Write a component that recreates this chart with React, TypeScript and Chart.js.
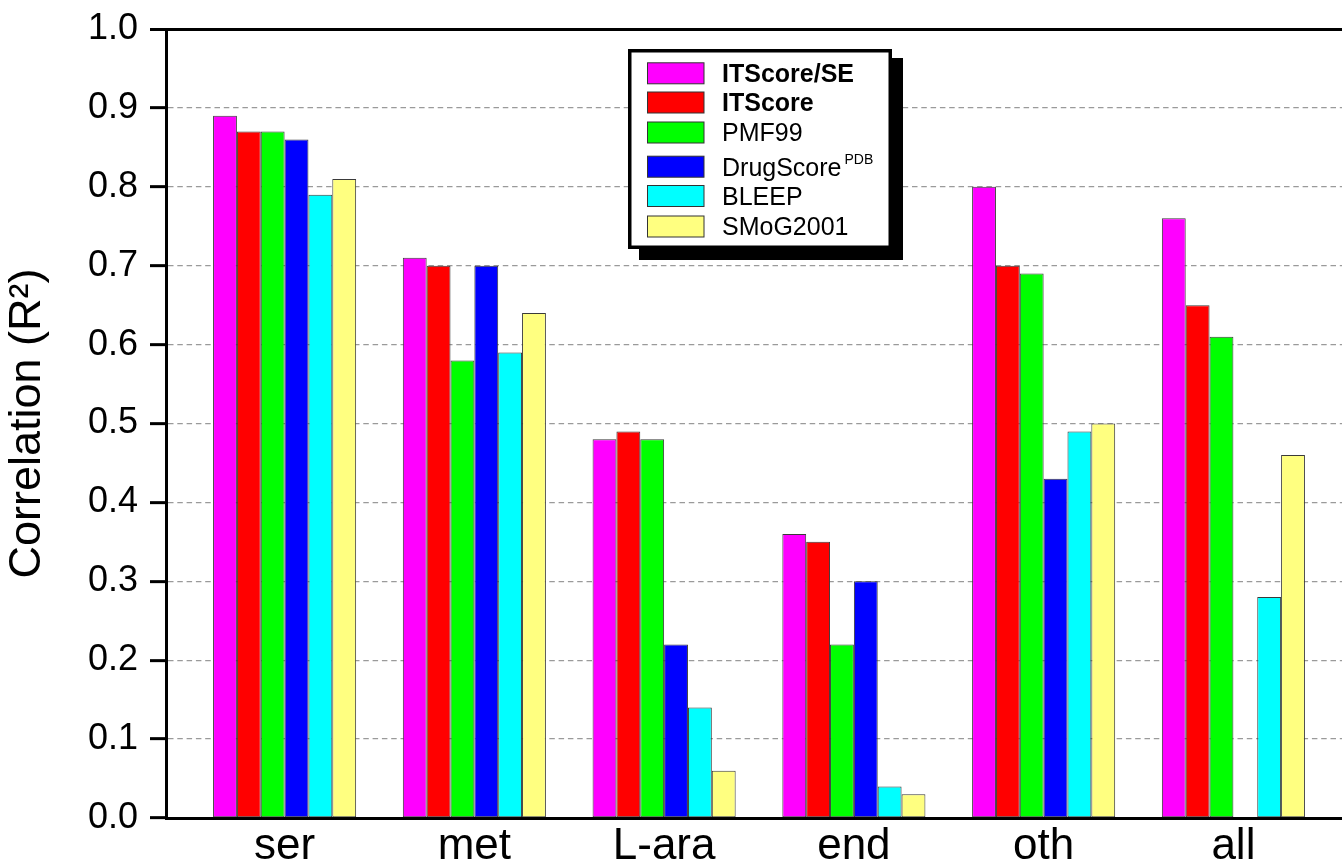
import React, { useEffect, useRef } from "react";
import { Chart, registerables } from "chart.js";

Chart.register(...registerables);

const categories = ["ser", "met", "L-ara", "end", "oth", "all"];
const seriesNames = ["ITScore/SE", "ITScore", "PMF99", "DrugScore", "BLEEP", "SMoG2001"];
const seriesSup = ["", "", "", "PDB", "", ""];
const itscoreSE = [0.89, 0.71, 0.48, 0.36, 0.8, 0.76];
const itscore = [0.87, 0.7, 0.49, 0.35, 0.7, 0.65];
const pmf99 = [0.87, 0.58, 0.48, 0.22, 0.69, 0.61];
const drugScore = [0.86, 0.7, 0.22, 0.3, 0.43, null];
const bleep = [0.79, 0.59, 0.14, 0.04, 0.49, 0.28];
const smog2001 = [0.81, 0.64, 0.06, 0.03, 0.5, 0.46];
const yTicks = [0, 0.1, 0.2, 0.3, 0.4, 0.5, 0.6, 0.7, 0.8, 0.9, 1.0];

const seriesValues = [itscoreSE, itscore, pmf99, drugScore, bleep, smog2001];
const seriesColors = ["#ff00ff", "#ff0000", "#00ff00", "#0000ff", "#00ffff", "#ffff80"];
const seriesBold = [true, true, false, false, false, false];

const FONT = '"Liberation Sans", Arial, Helvetica, sans-serif';
const W = 1380;
const H = 867;

const legendPlugin = {
  id: "boxLegend",
  afterDraw(chart: any) {
    const ctx = chart.ctx as CanvasRenderingContext2D;
    ctx.save();
    const bx = 628, by = 49, bw = 264, bh = 200, sh = 11;
    ctx.fillStyle = "#000";
    ctx.fillRect(bx + sh, by + sh - 2, bw, bh + 2);
    ctx.fillRect(bx, by, bw, bh);
    ctx.fillStyle = "#fff";
    ctx.fillRect(bx + 3.5, by + 3.5, bw - 7, bh - 7);
    const centers = [73.3, 102.5, 132.5, 166.7, 196, 226.5];
    chart.data.datasets.forEach((ds: any, i: number) => {
      const cy = centers[i];
      ctx.fillStyle = ds.backgroundColor;
      ctx.fillRect(647, cy - 10.5, 57, 21);
      ctx.strokeStyle = "#333";
      ctx.lineWidth = 1;
      ctx.strokeRect(647.5, cy - 10.5, 56.5, 21);
      ctx.fillStyle = "#000";
      ctx.textBaseline = "alphabetic";
      ctx.textAlign = "left";
      ctx.font = (seriesBold[i] ? "bold " : "") + "25px " + FONT;
      const base = cy + 8.8;
      ctx.fillText(ds.label, 722, base);
      if (seriesSup[i]) {
        const w = ctx.measureText(ds.label).width;
        ctx.font = "14px " + FONT;
        ctx.fillText(seriesSup[i], 722 + w + 3, base - 12);
      }
    });
    ctx.restore();
  },
};

export default function App() {
  const ref = useRef<HTMLCanvasElement | null>(null);
  useEffect(() => {
    if (!ref.current) return;
    const datasets = seriesNames.map((name, s) => ({
      label: name,
      data: categories.map((_, i) => ({ x: i, y: seriesValues[s][i] })),
      backgroundColor: seriesColors[s],
      borderColor: "#3a3a3a",
      borderWidth: 1,
      borderSkipped: false,
      barPercentage: 1,
      categoryPercentage: 0.754,
    }));
    const isInner = (v: number) => v > 0.001 && v < 0.999;
    const chart = new Chart(ref.current, {
      type: "bar",
      data: { datasets },
      plugins: [legendPlugin],
      options: {
        animation: false,
        responsive: false,
        events: [],
        layout: { padding: { top: 29, right: 28, bottom: 0, left: 0 } },
        plugins: { legend: { display: false }, tooltip: { enabled: false } },
        scales: {
          x: {
            type: "linear",
            min: -0.625,
            max: 5.625,
            offset: false,
            afterFit: (scale: any) => {
              scale.height = 49;
              scale.paddingLeft = 0;
              scale.paddingRight = 0;
            },
            afterBuildTicks: (axis: any) => {
              axis.ticks = categories.map((_, i) => ({ value: i }));
            },
            grid: { display: false, drawTicks: false, offset: false },
            border: { display: true, color: "#000", width: 3 },
            ticks: {
              autoSkip: false,
              maxRotation: 0,
              padding: 2,
              color: "#000",
              font: { family: FONT, size: 44 },
              callback: (v: any) => categories[Math.round(Number(v))] ?? "",
            },
          },
          y: {
            type: "linear",
            min: 0,
            max: 1,
            afterFit: (scale: any) => {
              scale.width = 166;
              scale.paddingTop = 0;
              scale.paddingBottom = 0;
            },
            afterBuildTicks: (axis: any) => {
              axis.ticks = yTicks.map((v) => ({ value: v }));
            },
            title: {
              display: true,
              text: "Correlation (R²)",
              color: "#000",
              font: { family: FONT, size: 45, lineHeight: 1.2 },
              padding: { top: 1, bottom: 0 },
            },
            grid: {
              color: (c: any) =>
                c.tick ? (isInner(c.tick.value) ? "#9a9a9a" : c.tick.value >= 0.999 ? "#000" : "rgba(0,0,0,0)") : "#000",
              lineWidth: (c: any) => (c.tick && c.tick.value >= 0.999 ? 3 : 1.3),
              tickColor: "#000",
              tickWidth: 3,
              tickLength: 16,
              drawTicks: true,
            },
            border: {
              display: true,
              color: "#000",
              width: 3,
              dash: (c: any) => (c.tick && isInner(c.tick.value) ? [5.5, 3.8] : []),
            },
            ticks: {
              padding: 12,
              color: "#000",
              font: { family: FONT, size: 36 },
              callback: (v: any) => Number(v).toFixed(1),
            },
          },
        },
      } as any,
    });
    return () => chart.destroy();
  }, []);
  return (
    <div style={{ position: "fixed", left: 0, top: 0, width: 1342, height: 867, overflow: "hidden", background: "#fff" }}>
      <canvas ref={ref} width={W} height={H} style={{ display: "block", width: W, height: H }} />
    </div>
  );
}
